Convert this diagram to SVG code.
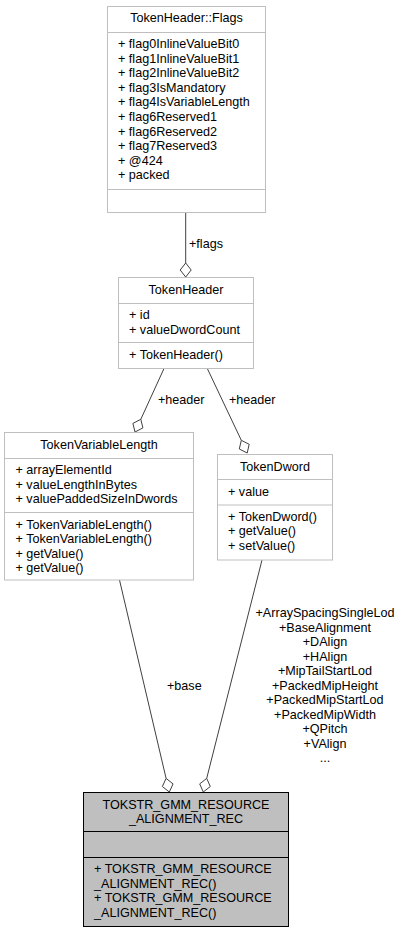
<svg xmlns="http://www.w3.org/2000/svg" width="402" height="933" viewBox="0 0 402 933">
<style>
text{font-family:"Liberation Sans",Arial,Helvetica,sans-serif;font-size:12.6px;fill:#000}
.c{text-anchor:middle}
.box{fill:#fff;stroke:#bfbfbf;stroke-width:1}
.sep{stroke:#bfbfbf;stroke-width:1}
.mbox{fill:#bfbfbf;stroke:#000;stroke-width:1}
.msep{stroke:#000;stroke-width:1}
.edge{stroke:#404040;stroke-width:1;fill:none}
.dia{stroke:#404040;stroke-width:1;fill:#fff}
</style>
<rect width="402" height="933" fill="#fff"/>
<g id="connectors">
<line class="edge" x1="185.7" y1="213" x2="185.7" y2="263"/>
<polygon class="dia" points="185.7,277 191.2,270 185.7,263 180.2,270"/>
<text x="189" y="248">+flags</text>
<line class="edge" x1="164" y1="368.5" x2="140.8" y2="419.3"/>
<polygon class="dia" points="135,432 142.9,427.9 140.8,419.3 132.9,423.4"/>
<text x="158" y="404">+header</text>
<line class="edge" x1="207.3" y1="368.5" x2="241.3" y2="440.3"/>
<polygon class="dia" points="247.2,453 249.2,444.3 241.3,440.3 239.3,449"/>
<text x="229" y="404">+header</text>
<line class="edge" x1="119.5" y1="580" x2="166.1" y2="778.4"/>
<polygon class="dia" points="169.3,792 173.05,783.9 166.1,778.4 162.35,786.5"/>
<text x="167" y="690">+base</text>
<line class="edge" x1="262" y1="560" x2="206.7" y2="778.4"/>
<polygon class="dia" points="203.3,792 210.3,786.5 206.7,778.4 199.7,783.9"/>
<g class="c">
<text class="c" x="325" y="617">+ArraySpacingSingleLod</text>
<text class="c" x="325" y="631.5">+BaseAlignment</text>
<text class="c" x="325" y="646">+DAlign</text>
<text class="c" x="325" y="660.5">+HAlign</text>
<text class="c" x="325" y="675">+MipTailStartLod</text>
<text class="c" x="325" y="689.5">+PackedMipHeight</text>
<text class="c" x="325" y="704">+PackedMipStartLod</text>
<text class="c" x="325" y="718.5">+PackedMipWidth</text>
<text class="c" x="325" y="733">+QPitch</text>
<text class="c" x="325" y="747.5">+VAlign</text>
<text class="c" x="325" y="762">...</text>
</g>
</g>
<g id="node-flags">
<rect class="box" x="107.5" y="6.5" width="158" height="206"/>
<line class="sep" x1="107.5" y1="32.5" x2="265.5" y2="32.5"/>
<line class="sep" x1="107.5" y1="189.5" x2="265.5" y2="189.5"/>
<text class="c" x="186.5" y="22">TokenHeader::Flags</text>
<text x="118" y="48">+ flag0InlineValueBit0</text>
<text x="118" y="62.6">+ flag1InlineValueBit1</text>
<text x="118" y="77.2">+ flag2InlineValueBit2</text>
<text x="118" y="91.8">+ flag3IsMandatory</text>
<text x="118" y="106.4">+ flag4IsVariableLength</text>
<text x="118" y="121">+ flag6Reserved1</text>
<text x="118" y="135.6">+ flag6Reserved2</text>
<text x="118" y="150.2">+ flag7Reserved3</text>
<text x="118" y="164.8">+ @424</text>
<text x="118" y="179.4">+ packed</text>
</g>
<g id="node-tokenheader">
<rect class="box" x="118.5" y="277.5" width="135" height="91"/>
<line class="sep" x1="118.5" y1="303.5" x2="253.5" y2="303.5"/>
<line class="sep" x1="118.5" y1="342.5" x2="253.5" y2="342.5"/>
<text class="c" x="186" y="293.5">TokenHeader</text>
<text x="129" y="319">+ id</text>
<text x="129" y="333.6">+ valueDwordCount</text>
<text x="129" y="358.5">+ TokenHeader()</text>
</g>
<g id="node-tokenvariablelength">
<rect class="box" x="4.5" y="432.5" width="189" height="147.5"/>
<line class="sep" x1="4.5" y1="458.5" x2="193.5" y2="458.5"/>
<line class="sep" x1="4.5" y1="512.5" x2="193.5" y2="512.5"/>
<text class="c" x="99" y="449">TokenVariableLength</text>
<text x="15.5" y="474">+ arrayElementId</text>
<text x="15.5" y="488.6">+ valueLengthInBytes</text>
<text x="15.5" y="503.2">+ valuePaddedSizeInDwords</text>
<text x="15.5" y="528.5">+ TokenVariableLength()</text>
<text x="15.5" y="543.1">+ TokenVariableLength()</text>
<text x="15.5" y="557.7">+ getValue()</text>
<text x="15.5" y="572.3">+ getValue()</text>
</g>
<g id="node-tokendword">
<rect class="box" x="217.5" y="454.5" width="115" height="105.5"/>
<line class="sep" x1="217.5" y1="479.5" x2="332.5" y2="479.5"/>
<line class="sep" x1="217.5" y1="505" x2="332.5" y2="505"/>
<text class="c" x="275" y="470.5">TokenDword</text>
<text x="228" y="495.5">+ value</text>
<text x="228" y="520.5">+ TokenDword()</text>
<text x="228" y="535.1">+ getValue()</text>
<text x="228" y="549.7">+ setValue()</text>
</g>
<g id="node-main">
<rect class="mbox" x="83.5" y="792.5" width="205" height="134"/>
<line class="msep" x1="83.5" y1="831.5" x2="288.5" y2="831.5"/>
<line class="msep" x1="83.5" y1="857.5" x2="288.5" y2="857.5"/>
<text class="c" x="186" y="808.5">TOKSTR_GMM_RESOURCE</text>
<text class="c" x="186" y="823">_ALIGNMENT_REC</text>
<text x="94" y="873">+ TOKSTR_GMM_RESOURCE</text>
<text x="94" y="887.6">_ALIGNMENT_REC()</text>
<text x="94" y="902.2">+ TOKSTR_GMM_RESOURCE</text>
<text x="94" y="916.8">_ALIGNMENT_REC()</text>
</g>
</svg>
